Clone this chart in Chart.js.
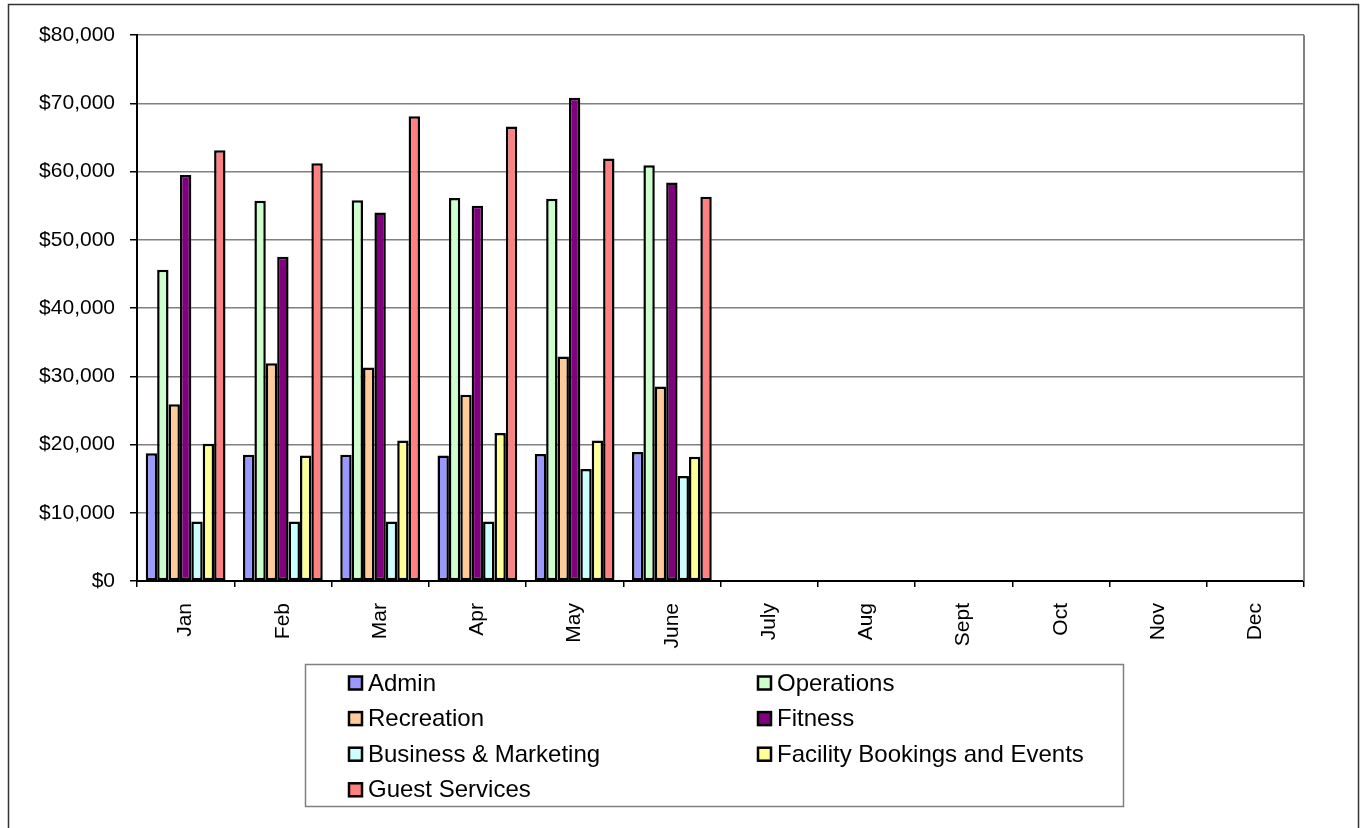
<!DOCTYPE html>
<html>
<head>
<meta charset="utf-8">
<title>Department Expenses</title>
<script src="https://cdn.jsdelivr.net/npm/chart.js@4.4.1/dist/chart.umd.min.js"></script>
<style>
    body { margin: 0; background: #fff; }
    canvas { display: block; }
</style>
</head>
<body>
<canvas id="expenseChart" width="1364" height="828"></canvas>
<script>
// Bulan dan nilai per departemen (Jul - Dec belum ada data)
const months = ['Jan', 'Feb', 'Mar', 'Apr', 'May', 'June', 'July', 'Aug', 'Sept', 'Oct', 'Nov', 'Dec'];
const admin = [18700, 18500, 18500, 18400, 18600, 18900, null, null, null, null, null, null];
const operations = [45600, 55700, 55800, 56100, 56000, 60900, null, null, null, null, null, null];
const recreation = [25900, 31900, 31300, 27300, 32900, 28500, null, null, null, null, null, null];
const fitness = [59500, 47500, 54000, 55000, 70800, 58400, null, null, null, null, null, null];
const business = [8700, 8700, 8700, 8700, 16400, 15400, null, null, null, null, null, null];
const facility = [20100, 18400, 20600, 21700, 20600, 18200, null, null, null, null, null, null];
const guest = [63100, 61200, 68100, 66600, 61900, 56300, null, null, null, null, null, null];
const yTicks = [0, 10000, 20000, 30000, 40000, 50000, 60000, 70000, 80000];

const FONT = 'Liberation Sans, Arial, sans-serif';

function makeSet(label, data, color) {
    return {
        label: label,
        data: data,
        backgroundColor: color,
        borderColor: '#000',
        borderWidth: 2.5,
        borderSkipped: false
    };
}

// Bingkai luar, garis kanan area plot, dan legenda dua kolom
const framePlugin = {
    id: 'frameAndLegend',
    afterDraw(chart) {
        const ctx = chart.ctx;
        const area = chart.chartArea;
        ctx.save();

        // garis kanan area plot
        ctx.strokeStyle = '#808080';
        ctx.lineWidth = 2;
        ctx.beginPath();
        ctx.moveTo(area.right, area.top);
        ctx.lineTo(area.right, area.bottom);
        ctx.stroke();

        // bingkai luar
        ctx.strokeStyle = '#333';
        ctx.lineWidth = 1.5;
        ctx.strokeRect(8.5, 4.5, 1350, 826);

        // kotak legenda
        ctx.strokeStyle = '#808080';
        ctx.lineWidth = 1.5;
        ctx.strokeRect(305.5, 664.5, 818, 142);

        ctx.font = '24px ' + FONT;
        ctx.textBaseline = 'middle';
        ctx.textAlign = 'left';
        const colX = [349, 758];
        chart.data.datasets.forEach(function(ds, i) {
            const x = colX[i % 2];
            const y = 683 + Math.floor(i / 2) * 35.6;
            ctx.fillStyle = ds.backgroundColor;
            ctx.fillRect(x, y - 6.5, 13, 13);
            ctx.strokeStyle = '#000';
            ctx.lineWidth = 2.5;
            ctx.strokeRect(x, y - 6.5, 13, 13);
            ctx.fillStyle = '#000';
            ctx.fillText(ds.label, x + 19, y + 1);
        });
        ctx.restore();
    }
};

const ctx = document.getElementById('expenseChart').getContext('2d');
new Chart(ctx, {
    type: 'bar',
    data: {
        labels: months,
        datasets: [
            makeSet('Admin', admin, '#9999FF'),
            makeSet('Operations', operations, '#CCFFCC'),
            makeSet('Recreation', recreation, '#FFCC99'),
            makeSet('Fitness', fitness, '#800080'),
            makeSet('Business & Marketing', business, '#CCFFFF'),
            makeSet('Facility Bookings and Events', facility, '#FFFF99'),
            makeSet('Guest Services', guest, '#FF8080')
        ]
    },
    options: {
        responsive: false,
        animation: false,
        layout: { padding: { top: 35, right: 60, left: 0, bottom: 0 } },
        datasets: {
            bar: { categoryPercentage: 0.82, barPercentage: 1.0 }
        },
        plugins: {
            legend: { display: false },
            tooltip: { enabled: false }
        },
        scales: {
            x: {
                offset: true,
                grid: {
                    offset: true,
                    drawOnChartArea: false,
                    drawTicks: true,
                    tickLength: 6,
                    tickColor: '#000',
                    lineWidth: 1.5
                },
                border: { color: '#000', width: 2 },
                ticks: {
                    color: '#000',
                    font: { family: FONT, size: 21 },
                    minRotation: 90,
                    maxRotation: 90,
                    autoSkip: false,
                    padding: 16
                },
                afterFit: function(scale) { scale.height = 247; }
            },
            y: {
                min: 0,
                max: 80000,
                afterBuildTicks: function(scale) {
                    scale.ticks = yTicks.map(function(v) { return { value: v }; });
                },
                grid: {
                    color: '#808080',
                    lineWidth: 1.5,
                    tickLength: 7,
                    tickColor: '#000'
                },
                border: { color: '#000', width: 2 },
                ticks: {
                    color: '#000',
                    font: { family: FONT, size: 21 },
                    padding: 15,
                    callback: function(v) { return '$' + Number(v).toLocaleString('en-US'); }
                },
                afterFit: function(scale) { scale.width = 137; }
            }
        }
    },
    plugins: [framePlugin]
});
</script>
</body>
</html>
